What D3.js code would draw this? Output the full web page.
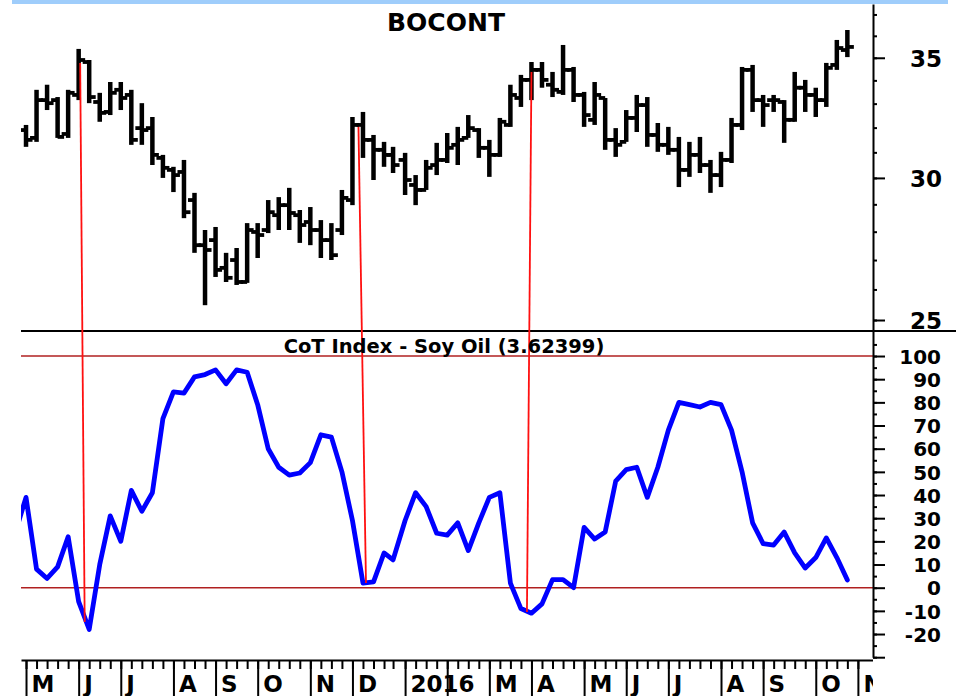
<!DOCTYPE html>
<html>
<head>
<meta charset="utf-8">
<script src="https://cdn.jsdelivr.net/npm/d3@7"></script>
<style>
body { margin: 0; background: #fff; }
svg { display: block; }
</style>
</head>
<body>
<div id="root"></div>
<script>
const width = 956, height = 696;

// weekly bars (Friday dates; Jan 1 2016 traded on Dec 31)
const weeks = [
  '2015-05-01','2015-05-08','2015-05-15','2015-05-22','2015-05-29','2015-06-05','2015-06-12','2015-06-19','2015-06-26',
  '2015-07-03','2015-07-10','2015-07-17','2015-07-24','2015-07-31','2015-08-07','2015-08-14','2015-08-21','2015-08-28',
  '2015-09-04','2015-09-11','2015-09-18','2015-09-25','2015-10-02','2015-10-09','2015-10-16','2015-10-23','2015-10-30',
  '2015-11-06','2015-11-13','2015-11-20','2015-11-27','2015-12-04','2015-12-11','2015-12-18','2015-12-25','2015-12-31',
  '2016-01-08','2016-01-15','2016-01-22','2016-01-29','2016-02-05','2016-02-12','2016-02-19','2016-02-26','2016-03-04',
  '2016-03-11','2016-03-18','2016-03-25','2016-04-01','2016-04-08','2016-04-15','2016-04-22','2016-04-29','2016-05-06',
  '2016-05-13','2016-05-20','2016-05-27','2016-06-03','2016-06-10','2016-06-17','2016-06-24','2016-07-01','2016-07-08',
  '2016-07-15','2016-07-22','2016-07-29','2016-08-05','2016-08-12','2016-08-19','2016-08-26','2016-09-02','2016-09-09',
  '2016-09-16','2016-09-23','2016-09-30','2016-10-07','2016-10-14','2016-10-21','2016-10-28'
];
const open = [31.90,31.58,33.15,33.15,31.74,33.37,34.81,33.07,32.65,33.59,
  33.37,31.98,31.98,30.78,30.31,30.23,29.16,27.52,27.70,26.73,
  27.00,26.25,27.99,28.06,28.60,28.97,28.60,28.35,28.06,27.70,
  28.06,29.16,32.11,31.50,31.10,30.90,30.70,29.73,29.54,30.50,
  30.70,31.30,31.58,31.90,31.18,30.90,32.11,33.24,34.02,34.46,
  33.81,33.50,34.46,33.37,32.32,33.24,31.50,31.42,32.40,32.94,
  31.70,31.30,31.10,30.31,30.90,30.50,30.11,30.70,32.11,34.46,
  33.15,33.15,33.07,32.32,33.68,33.37,33.15,34.68,35.35];
const high = [32.11,33.59,33.81,33.28,33.59,35.40,34.90,33.46,33.93,33.93,
  33.59,33.02,32.44,30.90,30.43,30.70,29.43,28.06,28.17,27.25,
  27.42,28.31,28.31,29.16,29.27,29.62,28.79,28.90,28.42,28.31,
  29.54,32.44,32.65,31.70,31.42,31.22,30.98,30.11,30.70,31.38,
  31.78,32.03,32.52,31.98,31.50,32.40,33.81,34.24,34.81,34.81,
  34.37,35.58,34.59,33.50,33.93,33.24,31.98,32.73,33.37,33.28,
  32.19,32.03,31.62,31.42,31.62,30.70,31.02,32.40,34.59,34.68,
  33.37,33.37,33.15,34.37,34.02,33.68,34.77,35.81,36.27];
const low = [31.22,31.42,32.73,31.58,31.58,33.15,33.02,32.24,32.52,32.73,
  31.30,31.30,30.50,30.00,29.46,28.49,27.25,25.48,26.42,26.25,
  26.15,26.22,27.07,27.95,28.06,28.06,27.60,27.52,27.07,27.00,
  27.88,28.97,30.78,29.92,30.43,30.19,29.35,28.97,29.54,30.11,
  30.58,30.50,31.58,30.78,30.04,30.82,32.03,32.86,33.15,33.68,
  33.28,33.37,33.07,32.03,32.11,31.10,30.82,31.42,31.82,31.22,
  31.02,30.90,29.65,30.04,30.19,29.43,29.65,30.58,31.90,32.65,
  32.03,32.65,31.38,32.24,32.65,32.44,32.86,34.46,35.03];
const close = [31.50,33.15,33.02,31.62,33.46,34.90,33.28,32.61,33.46,33.24,
  31.50,31.90,30.90,30.39,30.11,28.71,27.52,27.35,26.66,26.39,
  26.25,28.06,27.88,28.71,28.97,28.68,28.24,28.06,27.70,27.17,
  29.24,32.11,31.50,31.10,30.90,30.50,29.92,29.54,30.39,30.70,
  31.18,31.50,31.98,31.18,30.90,32.24,33.37,34.02,34.46,34.02,
  33.59,34.46,33.37,32.52,33.37,31.50,31.30,32.40,32.94,31.70,
  31.30,31.10,30.31,30.90,30.50,30.11,30.70,32.11,34.46,33.15,
  32.94,33.15,32.32,33.68,33.37,33.15,34.55,35.44,35.49];

// CoT index, one value per week (starts one week before the first bar)
const cotWeeks = ['2015-04-24'].concat(weeks);
const cotIndex = [24,39,8,4,9,22,-6,-18,10,31,
  20,42,33,41,73,84.5,84,91,92,94,
  88,94,93,79,60,52,48.6,49.5,54,66,
  65,50,29,2,2.5,15,12,29,41,35,
  23.5,22.7,28,16,28,39,41,2,-9,-11,
  -7,3.5,3.5,0,26,21,24,46,51,52,
  39,52,68,80,79,78,80,79,68,50,
  28,19,18.4,24,15,8.5,13,21.5,13,3.3];

// red signal lines: price point -> CoT point
const signals = [
  { from: '2015-06-06', price: 34.77, to: '2015-06-09', cot: -14.8 },
  { from: '2015-12-08', price: 32.03, to: '2015-12-13', cot: 2 },
  { from: '2016-04-01', price: 34.37, to: '2016-03-29', cot: -10.5 }
];

const priceMinor = [25,26,27,28,29,30,31,32,33,34,35,36,37];
const priceMajor = [25,30,35];
const cotMinor = [-30,-25,-20,-15,-10,-5,0,5,10,15,20,25,30,35,40,45,50,55,60,65,70,75,80,85,90,95,100,105];
const cotMajor = [-30,-20,-10,0,10,20,30,40,50,60,70,80,90,100];
const cotLevels = [0, 100];
const extraTick = '2016-11-04';
const monthLabels = ['M','J','J','A','S','O','N','D','2016','','M','A','M','J','J','A','S','O','N'];

const font = 'DejaVu Sans, Arial, sans-serif';
const parse = d3.utcParse('%Y-%m-%d');
const barDates = weeks.map(parse);
const rows = barDates.map((d, i) => ({ d, o: open[i], h: high[i], l: low[i], c: close[i] }));
const cotRows = cotWeeks.map((w, i) => ({ d: parse(w), v: cotIndex[i] }));
const tickDates = barDates.concat([parse(extraTick)]);
const monthDates = tickDates.filter((d, i) => i === 0 || d.getUTCMonth() !== tickDates[i - 1].getUTCMonth());

const x = d3.scaleUtc()
  .domain([d3.isoParse('2015-04-27T16:00:00Z'), d3.isoParse('2016-11-14T01:00:00Z')])
  .range([21, 873]);
const yP = d3.scaleLog().domain([24.65, 37.5]).range([331, 4]);
const yC = d3.scaleLinear().domain([-30, 110.8]).range([657.2, 331]);

const svg = d3.select('#root').append('svg').attr('width', width).attr('height', height);
const defs = svg.append('defs');
defs.append('clipPath').attr('id', 'plot').append('rect').attr('x', 21).attr('y', 4).attr('width', 852).attr('height', 656);
defs.append('clipPath').attr('id', 'xclip').append('rect').attr('x', 0).attr('y', -2).attr('width', 873).attr('height', 40);

// top band
svg.append('rect').attr('x', 12).attr('y', 0).attr('width', 936).attr('height', 4).attr('fill', '#9fcdfb');

// CoT reference levels
svg.append('g').selectAll('line').data(cotLevels).join('line')
  .attr('x1', 21).attr('x2', 873)
  .attr('y1', d => yC(d)).attr('y2', d => yC(d))
  .attr('stroke', '#b02020').attr('stroke-width', 1.6);

// OHLC bars
const bars = svg.append('g').attr('clip-path', 'url(#plot)').attr('stroke', '#000');
bars.selectAll('line.hl').data(rows).join('line').attr('class', 'hl')
  .attr('x1', d => x(d.d)).attr('x2', d => x(d.d))
  .attr('y1', d => yP(d.h)).attr('y2', d => yP(d.l))
  .attr('stroke-width', 4.5);
bars.selectAll('line.op').data(rows).join('line').attr('class', 'op')
  .attr('x1', d => x(d.d) - 6.5).attr('x2', d => x(d.d))
  .attr('y1', d => yP(d.o)).attr('y2', d => yP(d.o))
  .attr('stroke-width', 3.8);
bars.selectAll('line.cl').data(rows).join('line').attr('class', 'cl')
  .attr('x1', d => x(d.d)).attr('x2', d => x(d.d) + 6.5)
  .attr('y1', d => yP(d.c)).attr('y2', d => yP(d.c))
  .attr('stroke-width', 3.8);

// CoT line
const line = d3.line().x(d => x(d.d)).y(d => yC(d.v));
svg.append('path').datum(cotRows)
  .attr('clip-path', 'url(#plot)')
  .attr('d', line)
  .attr('fill', 'none').attr('stroke', '#0000ff').attr('stroke-width', 4.8)
  .attr('stroke-linejoin', 'round').attr('stroke-linecap', 'round');

// panel separator
svg.append('line').attr('x1', 21).attr('x2', 956).attr('y1', yP.range()[0]).attr('y2', yP.range()[0])
  .attr('stroke', '#000').attr('stroke-width', 2);

// signal lines
svg.append('g').selectAll('line').data(signals).join('line')
  .attr('x1', d => x(parse(d.from))).attr('y1', d => yP(d.price))
  .attr('x2', d => x(parse(d.to))).attr('y2', d => yC(d.cot))
  .attr('stroke', '#ff1010').attr('stroke-width', 1.8);

function styleAxis(g, size) {
  g.attr('font-family', font).attr('font-size', size).attr('font-weight', 'bold');
  g.selectAll('line').attr('stroke', '#000').attr('stroke-width', 2);
  g.selectAll('.domain').attr('stroke', '#000').attr('stroke-width', 2);
  g.selectAll('text').attr('fill', '#000');
}

// price axis
const gp = svg.append('g').attr('transform', 'translate(873,0)')
  .call(d3.axisRight(yP).tickValues(priceMinor).tickSize(4).tickSizeOuter(0).tickFormat(''));
styleAxis(gp, 23);
const gp2 = svg.append('g').attr('transform', 'translate(873,0)')
  .call(d3.axisRight(yP).tickValues(priceMajor).tickSize(12).tickFormat(d3.format('d')));
gp2.select('.domain').remove();
styleAxis(gp2, 23);
gp2.selectAll('text').attr('text-anchor', 'end').attr('x', 69).attr('dy', '0.36em');

// CoT axis
const gc = svg.append('g').attr('transform', 'translate(873,0)')
  .call(d3.axisRight(yC).tickValues(cotMinor).tickSize(4).tickSizeOuter(0).tickFormat(''));
styleAxis(gc, 20);
const gc2 = svg.append('g').attr('transform', 'translate(873,0)')
  .call(d3.axisRight(yC).tickValues(cotMajor).tickSize(12).tickFormat(d => d === -30 ? '' : d));
gc2.select('.domain').remove();
styleAxis(gc2, 20);
gc2.selectAll('text').attr('text-anchor', 'end').attr('x', 68).attr('dy', '0.36em');

// time axis: weekly ticks + month ticks with labels
const gx = svg.append('g').attr('transform', 'translate(0,660)').attr('clip-path', 'url(#xclip)')
  .call(d3.axisBottom(x).tickValues(tickDates).tickSize(9).tickSizeOuter(0).tickFormat(''));
styleAxis(gx, 23);
const gm = svg.append('g').attr('transform', 'translate(0,660)').attr('clip-path', 'url(#xclip)')
  .call(d3.axisBottom(x).tickValues(monthDates).tickSize(40).tickFormat((d, i) => monthLabels[i]));
gm.select('.domain').remove();
styleAxis(gm, 23);
gm.selectAll('text').attr('text-anchor', 'start').attr('x', 5).attr('y', 32).attr('dy', null);

// titles
svg.append('text').attr('x', 446).attr('y', 31).attr('text-anchor', 'middle')
  .attr('font-family', font).attr('font-weight', 'bold').attr('font-size', 25).attr('fill', '#000')
  .text('BOCONT');
svg.append('text').attr('x', 444).attr('y', 353).attr('text-anchor', 'middle')
  .attr('font-family', font).attr('font-weight', 'bold').attr('font-size', 19.5).attr('fill', '#000')
  .text('CoT Index - Soy Oil (3.62399)');
</script>
</body>
</html>
